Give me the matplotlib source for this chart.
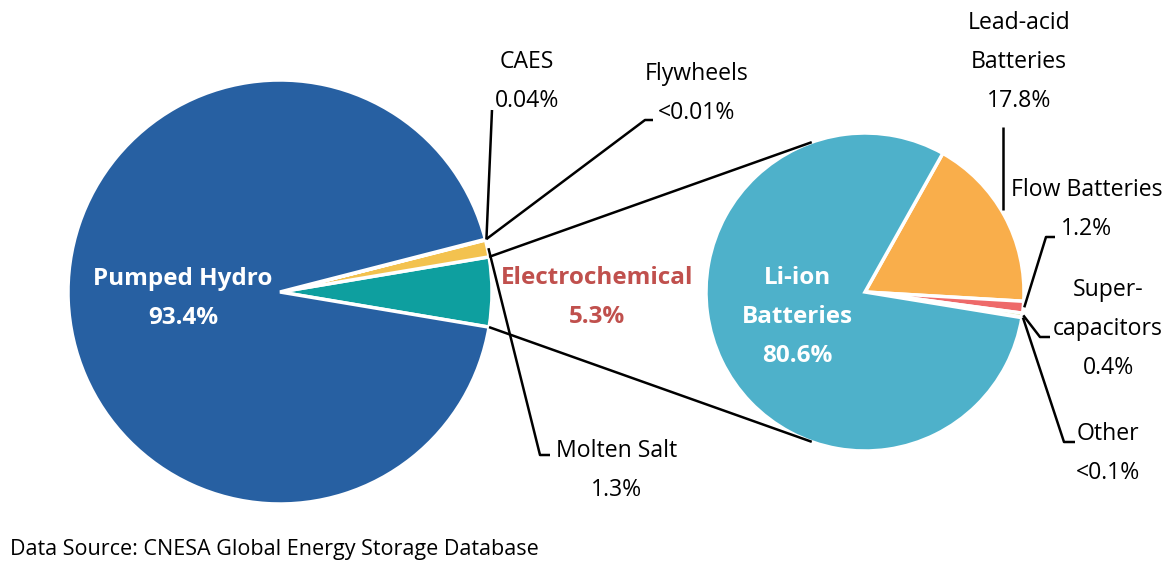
import matplotlib
matplotlib.use("Agg")
import matplotlib.pyplot as plt
import numpy as np

# ---------------- data ----------------
main_labels = ["Electrochemical", "Molten Salt", "CAES", "Flywheels", "Pumped Hydro"]
main_values = [5.3, 1.3, 0.04, 0.01, 93.4]
main_pct = ["5.3%", "1.3%", "0.04%", "<0.01%", "93.4%"]

sub_labels = ["Lead-acid\nBatteries", "Flow Batteries", "Super-\ncapacitors", "Other", "Li-ion\nBatteries"]
sub_values = [17.8, 1.2, 0.4, 0.05, 80.6]
sub_pct = ["17.8%", "1.2%", "0.4%", "<0.1%", "80.6%"]

source_text = "Data Source: CNESA Global Energy Storage Database"

# ---------------- styles ----------------
W, H = 1170, 575
main_colors = ["#0E9F9F", "#F3C24F", "#F3C24F", "#F3C24F", "#2760A2"]
sub_colors = ["#F9AE4B", "#EE6A6A", "#C9DA72", "#9BBB59", "#4EB1CA"]
FONT = ["Open Sans", "DejaVu Sans"]
FS = 16.6
FSB = 17.5
LINE = 39  # px between label lines

plt.rcParams["font.family"] = FONT

fig = plt.figure(figsize=(W / 100, H / 100), dpi=100)
ax = fig.add_axes([0, 0, 1, 1])


def Y(py):
    return H - py


c1 = np.array([280.0, Y(292)])
r1 = 212.0
c2 = np.array([865.0, Y(292)])
r2 = 159.0

tot1 = sum(main_values)
start1 = -main_values[0] / tot1 * 360 / 2
w1, _ = ax.pie(main_values, colors=main_colors, startangle=start1, counterclock=True,
               center=tuple(c1), radius=r1,
               wedgeprops=dict(edgecolor="white", linewidth=2.5))

w2, _ = ax.pie(sub_values, colors=sub_colors, startangle=60.7, counterclock=False,
               center=tuple(c2), radius=r2,
               wedgeprops=dict(edgecolor="white", linewidth=2.5))


def pt(c, r, ang):
    a = np.deg2rad(ang)
    return np.array([c[0] + r * np.cos(a), c[1] + r * np.sin(a)])


def mid(w):
    return (w.theta1 + w.theta2) / 2


def line(pts):
    pts = np.array(pts)
    ax.plot(pts[:, 0], pts[:, 1], color="black", lw=1.8, solid_capstyle="butt", zorder=5)


def label(x, py, text, color="black", weight="normal", fs=FS):
    for i, s in enumerate(text.split("\n")):
        ax.text(x, Y(py + i * LINE), s, ha="center", va="center", fontsize=fs,
                color=color, fontweight=weight, zorder=6)


# ---- connection lines (tangents to right pie) ----
def tangent(p, c, r, upper):
    d = p - c
    dist = np.hypot(*d)
    base = np.degrees(np.arctan2(d[1], d[0]))
    off = np.degrees(np.arccos(r / dist))
    ang = base - off if upper else base + off
    return pt(c, r, ang)


pa = pt(c1, r1, w1[0].theta2)
pb = pt(c1, r1, w1[0].theta1)
line([pa, tangent(pa, c2, r2, True)])
line([pb, tangent(pb, c2, r2, False)])

# ---- left leader lines ----
p_ms = pt(c1, r1 + 1, mid(w1[1]))
line([p_ms, (540, Y(455)), (550, Y(455))])
p_caes = pt(c1, r1 + 1, mid(w1[2]))
line([p_caes, (492, Y(110))])
p_fly = pt(c1, r1 + 1, mid(w1[3]))
line([p_fly, (645, Y(120)), (653, Y(120))])

# ---- right leader lines ----
p_la = pt(c2, r2, 30)
line([(1003, Y(127)), (1003, p_la[1] + 3)])
p_fb = pt(c2, r2 + 1, mid(w2[1]))
line([p_fb, (1046, Y(237)), (1055, Y(237))])
p_sc = pt(c2, r2 + 1, mid(w2[2]))
line([p_sc, (1040, Y(337)), (1050, Y(337))])
p_ot = pt(c2, r2 + 1, mid(w2[3]))
line([p_ot, (1064, Y(442)), (1075, Y(442))])

# ---- labels ----
label(183, 279, main_labels[4] + "\n" + main_pct[4], color="white", weight="bold", fs=FSB)
label(597, 278, main_labels[0] + "\n" + main_pct[0], color="#C0504D", weight="bold", fs=FSB)
label(617, 451, main_labels[1] + "\n" + main_pct[1])
label(527, 62, main_labels[2] + "\n" + main_pct[2])
label(697, 74, main_labels[3] + "\n" + main_pct[3])

label(797, 278, sub_labels[4] + "\n" + sub_pct[4], color="white", weight="bold", fs=FSB)
label(1019, 23, sub_labels[0] + "\n" + sub_pct[0])
label(1087, 190, sub_labels[1] + "\n" + sub_pct[1])
label(1108, 290, sub_labels[2] + "\n" + sub_pct[2])
label(1108, 434, sub_labels[3] + "\n" + sub_pct[3])

ax.text(10, Y(550), source_text, ha="left", va="center", fontsize=15.5, color="black")

ax.set_xlim(0, W)
ax.set_ylim(0, H)
ax.set_aspect("equal")
ax.axis("off")

fig.savefig("out.png", dpi=100, facecolor="white")
